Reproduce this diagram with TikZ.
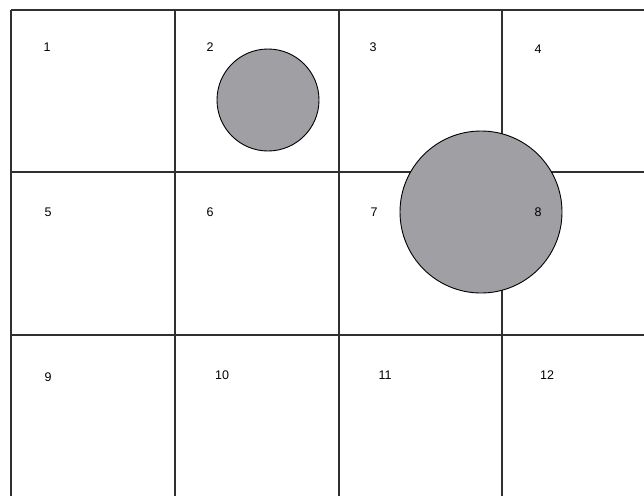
\documentclass[tikz,border=0pt]{standalone}
\usepackage{fontspec}
\setmainfont{Liberation Sans}
\usepackage{xcolor}
\usepackage{tikz}
\definecolor{circleGray}{HTML}{A0A0A4}
\definecolor{lineGray}{HTML}{303030}

\begin{document}
\begin{tikzpicture}[x=1pt, y=-1pt,
    gridline/.style={lineGray, line width=1.4pt},
    cellnum/.style={font=\fontsize{12.5}{14}\selectfont, inner sep=0pt}]
    \useasboundingbox (0,0) rectangle (644,496);
    % grid
    \foreach \x in {11,175,339,502}
        \draw[gridline] (\x,10) -- (\x,496);
    \foreach \y in {10,172,335}
        \draw[gridline] (11,\y) -- (644,\y);
    % small circle in cell 2
    \draw[fill=circleGray, line width=0.9pt] (268,100) circle (51);
    % large circle over cells 3, 4, 7, 8
    \draw[fill=circleGray, line width=0.9pt] (481,212) circle (81);

    \node[cellnum] (n1) at (47,47) {1};
    \node[cellnum] (n2) at (210,47) {2};
    \node[cellnum] (n3) at (373,47) {3};
    \node[cellnum] (n4) at (538,49) {4};
    \node[cellnum] (n5) at (48,212) {5};
    \node[cellnum] (n6) at (210,212) {6};
    \node[cellnum] (n7) at (374,212) {7};
    \node[cellnum] (n8) at (538,212) {8};
    \node[cellnum] (n9) at (48,377) {9};
    \node[cellnum] (n10) at (222,375) {10};
    \node[cellnum] (n11) at (385,375) {11};
    \node[cellnum] (n12) at (547,375) {12};
\end{tikzpicture}
\end{document}
